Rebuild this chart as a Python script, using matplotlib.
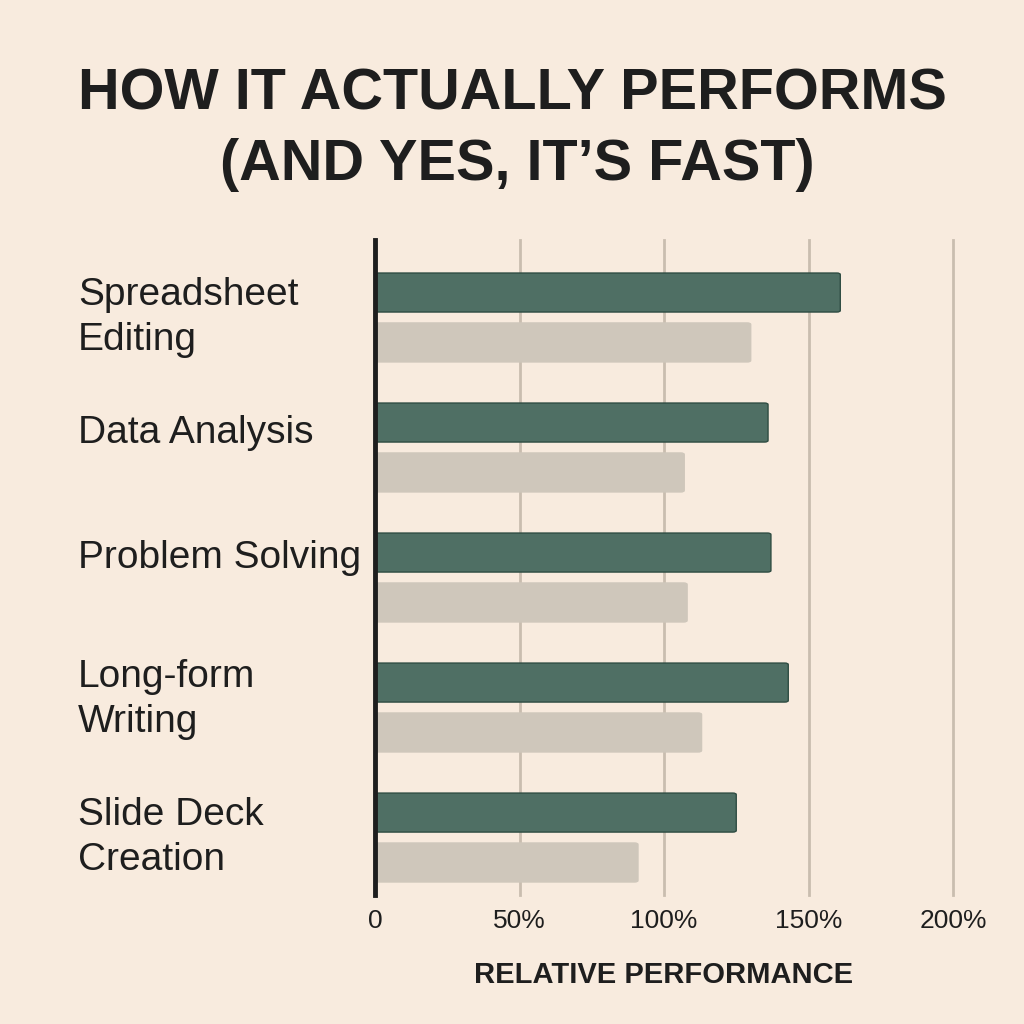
import matplotlib
matplotlib.use("Agg")
import matplotlib.pyplot as plt
from matplotlib.patches import FancyBboxPatch
import numpy as np

categories = ["Spreadsheet\nEditing", "Data Analysis", "Problem Solving",
              "Long-form\nWriting", "Slide Deck\nCreation"]
new_perf = [161, 136, 137, 143, 125]
old_perf = [130, 107, 108, 113, 91]
tick_vals = [0, 50, 100, 150, 200]
tick_labels = ["0", "50%", "100%", "150%", "200%"]

bg = "#F8EBDE"
green = "#4F6F64"
beige = "#CFC7BB"
grid_c = "#C9BDAF"
ink = "#1E1E1E"

plt.rcParams['font.family'] = ['Liberation Sans', 'DejaVu Sans']

fig = plt.figure(figsize=(10.24, 10.24), dpi=100, facecolor=bg)
ax = fig.add_axes([375 / 1024, 1 - 895 / 1024, (953 - 375) / 1024, (895 - 240) / 1024])
ax.set_facecolor(bg)

y = np.arange(len(categories))
h = 0.3
off = 0.192

def rounded_bars(vals, ys, color, edge):
    for v, yy in zip(vals, ys):
        p = FancyBboxPatch((0, yy - h / 2), v, h,
                           boxstyle="round,pad=0,rounding_size=1.2",
                           mutation_aspect=0.01,
                           facecolor=color, edgecolor=edge, linewidth=1, zorder=3)
        ax.add_patch(p)

rounded_bars(new_perf, y - off, green, "#2E4C42")
rounded_bars(old_perf, y + off, beige, beige)

ax.set_xlim(0, 200)
ax.set_ylim(4.442, -0.596)

for t in tick_vals[1:]:
    ax.axvline(t, color=grid_c, linewidth=2, zorder=1, clip_on=False)

for s in ["top", "right", "bottom"]:
    ax.spines[s].set_visible(False)
ax.spines["left"].set_linewidth(3.5)
ax.spines["left"].set_color(ink)
ax.spines["left"].set_zorder(4)

ax.set_yticks([])
ax.set_xticks(tick_vals)
ax.set_xticklabels(tick_labels, fontsize=19, color=ink)
ax.tick_params(axis="x", length=0, pad=10)

ax.set_xlabel("RELATIVE PERFORMANCE", fontsize=21, fontweight="bold",
              color=ink, labelpad=20)

label_shift = [0, -0.11, -0.15, -0.06, 0.0]
for i, c in enumerate(categories):
    ax.annotate(c, xy=(78 / 1024, i + label_shift[i]),
                xycoords=("figure fraction", "data"),
                ha="left", va="center", fontsize=28, color=ink,
                linespacing=1.32)

fig.text(0.5, 1 - 110 / 1024, "HOW IT ACTUALLY PERFORMS", ha="center",
         va="baseline", fontsize=41.5, fontweight="bold", color=ink)
fig.text(0.505, 1 - 180 / 1024, "(AND YES, IT\u2019S FAST)", ha="center",
         va="baseline", fontsize=41.5, fontweight="bold", color=ink)

fig.savefig("out.png", dpi=100, facecolor=bg)
